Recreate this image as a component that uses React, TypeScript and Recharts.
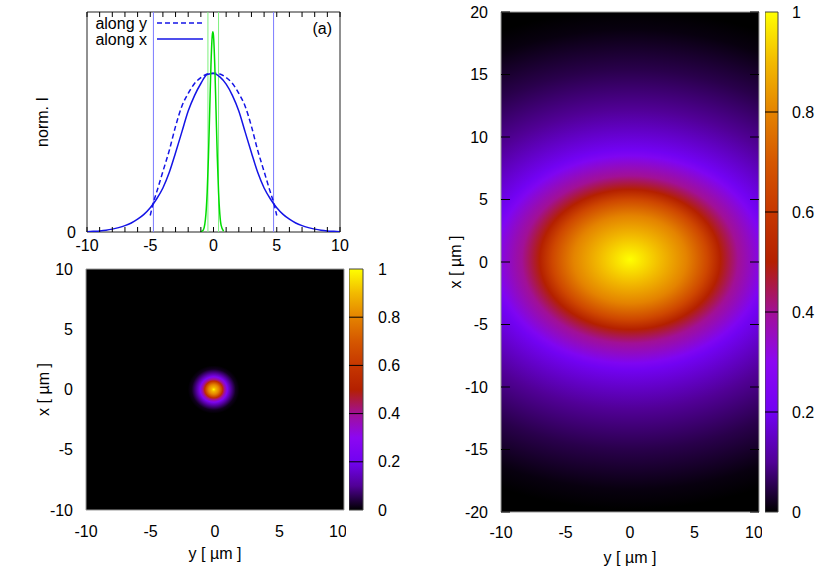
import {
  ComposedChart,
  BarChart,
  Line,
  Bar,
  XAxis,
  YAxis,
  ReferenceLine,
  ReferenceArea,
} from "recharts";

const font = "'Liberation Sans', Arial, Helvetica, sans-serif";
const blue = "#1414e6";
const green = "#00dd00";

// panel (a): line profiles, norm. I
const profilePos = [-10, -9.5, -9, -8.5, -8, -7.5, -7, -6.5, -6, -5.5, -5, -4.5, -4, -3.5, -3, -2.5, -2, -1.5, -1, -0.5, 0, 0.5, 1, 1.5, 2, 2.5, 3, 3.5, 4, 4.5, 5, 5.5, 6, 6.5, 7, 7.5, 8, 8.5, 9, 9.5, 10];
const alongXI = [0.001, 0.003, 0.005, 0.008, 0.013, 0.02, 0.029, 0.041, 0.058, 0.08, 0.11, 0.15, 0.2, 0.27, 0.36, 0.455, 0.55, 0.62, 0.675, 0.716, 0.72, 0.705, 0.672, 0.62, 0.55, 0.455, 0.36, 0.27, 0.2, 0.15, 0.11, 0.08, 0.058, 0.041, 0.029, 0.02, 0.013, 0.008, 0.005, 0.003, 0.001];
const alongYPos = [-5, -4.75, -4.5, -4, -3.5, -3, -2.5, -2, -1.5, -1, -0.5, 0, 0.5, 1, 1.5, 2, 2.5, 3, 3.5, 4, 4.5, 4.75, 5];
const alongYI = [0.075, 0.135, 0.18, 0.275, 0.37, 0.48, 0.572, 0.63, 0.675, 0.702, 0.718, 0.722, 0.718, 0.702, 0.675, 0.63, 0.572, 0.48, 0.37, 0.275, 0.18, 0.135, 0.075];
const focusPos = [-1, -0.8, -0.6, -0.5, -0.4, -0.3, -0.2, -0.1, -0.05, 0, 0.1, 0.2, 0.3, 0.4, 0.5, 0.6, 0.8];
const focusI = [0.001, 0.01, 0.081, 0.18, 0.341, 0.552, 0.76, 0.892, 0.91, 0.892, 0.76, 0.552, 0.341, 0.18, 0.081, 0.031, 0.003];
const waistMarks = [-4.75, 4.75];
const focusMarks = [-0.44, 0.4];
const tickPosA = [-10, -9, -8, -7, -6, -5, -4, -3, -2, -1, 0, 1, 2, 3, 4, 5, 6, 7, 8, 9, 10];

// panel (b): focal spot, radius [um] -> intensity
const spotBCenter = [-0.1, 0]; // y, x
const spotBR = [0, 0.15, 0.4, 0.7, 0.85, 1.05, 1.3, 1.7, 2.0];
const spotBI = [1, 0.9, 0.8, 0.55, 0.4, 0.25, 0.12, 0.02, 0];
const ticksB = [-10, -5, 0, 5, 10];

// panel (c): far field, radius along x [um] -> intensity, stretched along y
const spotCCenter = [0, 0.2];
const spotCR = [0, 1.9, 3.5, 4.8, 5.6, 6.7, 8.3, 8.8, 12, 15.2, 18.4, 20];
const spotCI = [1, 0.9, 0.8, 0.65, 0.5, 0.4, 0.25, 0.2, 0.1, 0.05, 0.01, 0];
const spotCAspect = 1.25;
const ticksCx = [-10, -5, 0, 5, 10];
const ticksCy = [-20, -15, -10, -5, 0, 5, 10, 15, 20];

const colorbarTicks = [0, 0.2, 0.4, 0.6, 0.8, 1];
const colorbarDividers = [0.2, 0.4, 0.6, 0.8];
const colorbarSpan = [{ name: "cb", top: 1 }];

// gnuplot-like palette (black - purple - red - orange - yellow)
const paletteStops = ["#000000", "#510096", "#7202f2", "#8c07f2", "#a11096", "#b42000", "#c63700", "#d55700", "#e48300", "#f2ba00", "#ffff00"];

function hexRgb(h: string) {
  return [parseInt(h.slice(1, 3), 16), parseInt(h.slice(3, 5), 16), parseInt(h.slice(5, 7), 16)];
}

function palette(v: number) {
  const n = paletteStops.length - 1;
  const t = Math.min(Math.max(v, 0), 1) * n;
  const i = Math.min(Math.floor(t), n - 1);
  const f = t - i;
  const a = hexRgb(paletteStops[i]);
  const b = hexRgb(paletteStops[i + 1]);
  return `rgb(${a.map((c, k) => Math.round(c + (b[k] - c) * f)).join(",")})`;
}

const alongXRows = profilePos.map((pos, i) => ({ pos, i: alongXI[i] }));
const alongYRows = alongYPos.map((pos, i) => ({ pos, i: alongYI[i] }));
const focusRows = focusPos.map((pos, i) => ({ pos, i: focusI[i] }));

const fs = 16;
const tickFont = { fontSize: fs, fill: "#000", fontFamily: font };
const labelStyle = { textAnchor: "middle" as const, fontSize: fs, fill: "#000", fontFamily: font };
const noLabel = () => <g />;
const everyFifth = (v: number) => (v % 5 === 0 ? String(v) : "");

function ProfilePanel() {
  return (
    <ComposedChart width={360} height={260} margin={{ top: 0, right: 20, bottom: 0, left: 0 }}>
      <XAxis dataKey="pos" type="number" domain={[-10, 10]} ticks={tickPosA} interval={0} allowDataOverflow
        tickFormatter={everyFifth} tick={tickFont} tickLine={{ stroke: "#000" }} axisLine={false}
        tickSize={-5} tickMargin={13} height={28} />
      <XAxis xAxisId="top" orientation="top" dataKey="pos" type="number" domain={[-10, 10]} ticks={tickPosA}
        interval={0} allowDataOverflow tick={noLabel} tickLine={{ stroke: "#000" }} axisLine={false}
        tickSize={-5} height={12} />
      <YAxis type="number" dataKey="i" domain={[0, 1]} ticks={[0]} allowDataOverflow width={87}
        tick={tickFont} tickLine={false} axisLine={false} tickSize={0} tickMargin={11}
        label={{ value: "norm. I", angle: -90, position: "insideLeft", offset: 42, style: labelStyle }} />
      {waistMarks.map((x) => (
        <ReferenceLine key={`w${x}`} x={x} stroke="#7b7bff" strokeWidth={1} />
      ))}
      {focusMarks.map((x) => (
        <ReferenceLine key={`f${x}`} x={x} stroke="#7ef07e" strokeWidth={1} />
      ))}
      <Line data={alongYRows} dataKey="i" type="monotone" stroke={blue} strokeWidth={1.5}
        strokeDasharray="5 3" dot={false} isAnimationActive={false} />
      <Line data={alongXRows} dataKey="i" type="monotone" stroke={blue} strokeWidth={1.5}
        dot={false} isAnimationActive={false} />
      <Line data={focusRows} dataKey="i" type="monotone" stroke={green} strokeWidth={1.5}
        dot={false} isAnimationActive={false} />
      <ReferenceArea x1={-10} x2={10} y1={0} y2={1} fill="none" stroke="#222" strokeWidth={1} ifOverflow="visible" />
      <g fontFamily={font} fontSize={fs} fill="#000">
        <text x={147} y={29} textAnchor="end">along y</text>
        <line x1={157} x2={203} y1={23} y2={23} stroke={blue} strokeWidth={1.5} strokeDasharray="5 3" />
        <text x={147} y={44.5} textAnchor="end">along x</text>
        <line x1={157} x2={203} y1={39} y2={39} stroke={blue} strokeWidth={1.5} />
        <text x={332} y={34} textAnchor="end">(a)</text>
      </g>
    </ComposedChart>
  );
}

function Colorbar({ id, width, height, top, bottom, margin }: { id: string; width: number; height: number; top: number; bottom: number; margin: number }) {
  return (
    <BarChart width={width} height={height} data={colorbarSpan} barCategoryGap={0}
      margin={{ top, right: 4, bottom, left: 0 }}>
      <defs>
        <linearGradient id={id} x1="0" y1="1" x2="0" y2="0">
          {paletteStops.map((c, i) => (
            <stop key={i} offset={`${(i / (paletteStops.length - 1)) * 100}%`} stopColor={c} />
          ))}
        </linearGradient>
      </defs>
      <XAxis dataKey="name" hide />
      <YAxis orientation="right" type="number" domain={[0, 1]} ticks={colorbarTicks} width={40}
        tick={tickFont} tickLine={false} axisLine={false} tickSize={0} tickMargin={margin} />
      <Bar dataKey="top" fill={`url(#${id})`} stroke="#444" strokeWidth={1} isAnimationActive={false} />
      {colorbarDividers.map((v) => (
        <ReferenceLine key={v} y={v} stroke="#000" strokeWidth={1} />
      ))}
    </BarChart>
  );
}

function FocusPanel() {
  const R = spotBR[spotBR.length - 1];
  return (
    <ComposedChart width={346} height={331} margin={{ top: 19, right: 2, bottom: 21, left: 0 }}>
      <defs>
        <radialGradient id="spotB" cx="50%" cy="50%" r="50%">
          {spotBR.map((r, i) => (
            <stop key={i} offset={`${(r / R) * 100}%`} stopColor={palette(spotBI[i])} />
          ))}
        </radialGradient>
      </defs>
      <XAxis type="number" dataKey="y" domain={[-10, 10]} ticks={ticksB} allowDataOverflow height={50}
        tick={tickFont} tickLine={false} axisLine={false} tickSize={0} tickMargin={16}
        label={{ value: "y [ µm ]", position: "insideBottom", offset: 1, style: labelStyle }} />
      <YAxis type="number" dataKey="x" domain={[-10, 10]} ticks={ticksB} allowDataOverflow width={86}
        tick={tickFont} tickLine={false} axisLine={false} tickSize={0} tickMargin={13}
        label={{ value: "x [ µm ]", angle: -90, position: "insideLeft", offset: 43, style: labelStyle }} />
      <ReferenceArea x1={-10} x2={10} y1={-10} y2={10} fill="#000" fillOpacity={1} stroke="none" ifOverflow="visible" />
      <ReferenceArea x1={spotBCenter[0] - R} x2={spotBCenter[0] + R} y1={spotBCenter[1] - R} y2={spotBCenter[1] + R}
        fill="url(#spotB)" fillOpacity={1} stroke="none" ifOverflow="hidden" />
      <ReferenceArea x1={-10} x2={10} y1={-10} y2={10} fill="none" stroke="#999" strokeWidth={1} ifOverflow="visible" />
      <text x={334} y={40} textAnchor="end" fontFamily={font} fontSize={fs} fill="#fff">(b)</text>
    </ComposedChart>
  );
}

function FarFieldPanel() {
  const R = spotCR[spotCR.length - 1];
  const Ry = R * spotCAspect;
  return (
    <ComposedChart width={322} height={581} margin={{ top: 12, right: 0, bottom: 17, left: 0 }}>
      <defs>
        <radialGradient id="spotC" cx="50%" cy="50%" r="50%">
          {spotCR.map((r, i) => (
            <stop key={i} offset={`${(r / R) * 100}%`} stopColor={palette(spotCI[i])} />
          ))}
        </radialGradient>
      </defs>
      <XAxis type="number" dataKey="y" domain={[-10, 10]} ticks={ticksCx} allowDataOverflow height={52}
        tick={tickFont} tickLine={false} axisLine={false} tickSize={0} tickMargin={15}
        label={{ value: "y [ µm ]", position: "insideBottom", offset: 1, style: labelStyle }} />
      <YAxis type="number" dataKey="x" domain={[-20, 20]} ticks={ticksCy} allowDataOverflow width={61}
        tick={tickFont} tickLine={{ stroke: "#000" }} axisLine={false} tickSize={-9} tickMargin={22}
        label={{ value: "x [ µm ]", angle: -90, position: "insideLeft", offset: 15, style: labelStyle }} />
      <YAxis yAxisId="r" orientation="right" dataKey="x" type="number" domain={[-20, 20]} ticks={ticksCy}
        interval={0} allowDataOverflow width={3} tick={noLabel} tickLine={{ stroke: "#000" }} axisLine={false}
        tickSize={-9} />
      <ReferenceArea x1={-10} x2={10} y1={-20} y2={20} fill="#000" fillOpacity={1} stroke="none" ifOverflow="visible" />
      <ReferenceArea x1={spotCCenter[0] - Ry} x2={spotCCenter[0] + Ry} y1={spotCCenter[1] - R} y2={spotCCenter[1] + R}
        fill="url(#spotC)" fillOpacity={1} stroke="none" ifOverflow="hidden" />
      <ReferenceArea x1={-10} x2={10} y1={-20} y2={20} fill="none" stroke="#999" strokeWidth={1} ifOverflow="visible" />
      <text x={308} y={33} textAnchor="end" fontFamily={font} fontSize={fs} fill="#fff">(c)</text>
    </ComposedChart>
  );
}

export default function App() {
  return (
    <div style={{ position: "absolute", left: 0, top: 0, width: 830, height: 581, background: "#fff", fontFamily: font }}>
      <div style={{ position: "absolute", left: 0, top: 0 }}>
        <ProfilePanel />
      </div>
      <div style={{ position: "absolute", left: 0, top: 250 }}>
        <FocusPanel />
      </div>
      <div style={{ position: "absolute", left: 349, top: 250 }}>
        <Colorbar id="cbB" width={58} height={300} top={19} bottom={40} margin={15} />
      </div>
      <div style={{ position: "absolute", left: 440, top: 0 }}>
        <FarFieldPanel />
      </div>
      <div style={{ position: "absolute", left: 765, top: 0 }}>
        <Colorbar id="cbC" width={57} height={581} top={12} bottom={69} margin={14} />
      </div>
    </div>
  );
}
